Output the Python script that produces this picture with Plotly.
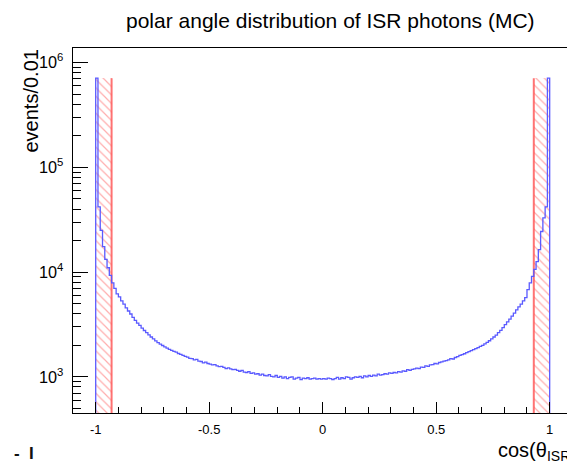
import plotly.graph_objects as go

# ---- data ----
bin_width = 0.01
bin_low = -1.0
counts = [
    710000, 42000, 25000, 17500, 13200, 11000, 9300, 7900, 7000, 6200,
    5800, 5300, 4950, 4550, 4250, 3980, 3700, 3460, 3250, 3100,
    2920, 2770, 2640, 2520, 2400, 2300, 2200, 2120, 2050, 1990,
    1930, 1880, 1830, 1790, 1750, 1720, 1670, 1640, 1600, 1570,
    1540, 1500, 1490, 1450, 1470, 1410, 1400, 1360, 1380, 1340,
    1320, 1300, 1310, 1270, 1250, 1260, 1230, 1200, 1220, 1190,
    1170, 1180, 1150, 1130, 1150, 1110, 1100, 1120, 1080, 1090,
    1060, 1070, 1040, 1060, 1030, 1020, 1050, 1010, 1000, 1030,
    990, 1010, 970, 1000, 960, 990, 1000, 950, 970, 990,
    940, 970, 960, 980, 950, 960, 970, 950, 960, 950,
    960, 950, 970, 960, 940, 960, 990, 950, 980, 960,
    1000, 990, 950, 980, 1000, 990, 1010, 980, 1020, 1000,
    1030, 1010, 1040, 1020, 1060, 1040, 1050, 1070, 1060, 1090,
    1080, 1100, 1090, 1120, 1110, 1140, 1130, 1170, 1150, 1180,
    1190, 1210, 1200, 1240, 1230, 1270, 1260, 1300, 1310, 1340,
    1330, 1370, 1390, 1410, 1430, 1450, 1490, 1480, 1530, 1560,
    1600, 1630, 1660, 1700, 1740, 1780, 1820, 1860, 1900, 1950,
    2000, 2060, 2130, 2210, 2300, 2400, 2500, 2640, 2780, 2950,
    3150, 3350, 3550, 3800, 4050, 4350, 4650, 4950, 5300, 5700,
    6800, 7900, 9100, 10600, 12600, 16400, 24400, 33000, 42000, 710000,
]
cut_value = 0.93          # |cos(theta)| acceptance boundary (hatched = excluded)
cut_box_height = 710000   # height of hatched boxes
x_tick_vals = [-1, -0.5, 0, 0.5, 1]
x_tick_text = ["-1", "-0.5", "0", "0.5", "1"]

title_text = "polar angle distribution of ISR photons (MC)"
y_title = "events/0.01"
x_title = "cos(θ<sub>ISR</sub>)"

# ---- build ----
n = len(counts)
edges = [bin_low + bin_width * i for i in range(n + 1)]
hist_x = [edges[0]] + edges[:n] + [edges[n]]
hist_y = [1] + counts + [1]

box_w = 1.0 - cut_value

fig = go.Figure()

fig.add_trace(go.Bar(
    x=[-(cut_value + box_w / 2), cut_value + box_w / 2],
    y=[cut_box_height, cut_box_height],
    width=[box_w, box_w],
    marker=dict(
        color="rgba(0,0,0,0)",
        line=dict(width=0),
        pattern=dict(shape="\\", fgcolor="rgba(255,60,60,0.85)",
                     bgcolor="rgba(255,255,255,0)", size=6, solidity=0.2,
                     fillmode="overlay"),
    ),
    showlegend=False, hoverinfo="skip",
))

for xc in (-cut_value, cut_value):
    fig.add_trace(go.Scatter(
        x=[xc, xc], y=[1, cut_box_height], mode="lines",
        line=dict(color="rgba(255,90,90,0.85)", width=2),
        showlegend=False, hoverinfo="skip",
    ))

fig.add_trace(go.Scatter(
    x=hist_x, y=hist_y, mode="lines", line_shape="hv",
    line=dict(color="rgb(90,90,255)", width=1.3),
    showlegend=False, hoverinfo="skip",
))

font_family = "Liberation Sans, Arial, Helvetica, sans-serif"
PW = 494.0   # plot width in px
PH = 365.0   # plot height in px

fig.update_layout(
    width=567, height=462,
    margin=dict(l=73, r=0, t=48, b=462 - 48 - 365, autoexpand=False),
    paper_bgcolor="white", plot_bgcolor="white",
    font=dict(family=font_family, color="black"),
    bargap=0,
    showlegend=False,
    hovermode=False,
    annotations=[
        dict(text=title_text, xref="paper", yref="paper",
             x=(330 - 73) / PW, y=1 + (48 - 20) / PH,
             xanchor="center", yanchor="middle", showarrow=False,
             font=dict(size=21, family=font_family)),
        dict(text=y_title, xref="paper", yref="paper",
             x=(30 - 73) / PW, y=1.0, textangle=-90,
             xanchor="center", yanchor="top", showarrow=False,
             font=dict(size=20, family=font_family)),
        dict(text=x_title, xref="paper", yref="paper",
             x=(579 - 73) / PW, y=-(437 - 413) / PH,
             xanchor="right", yanchor="top", showarrow=False,
             font=dict(size=20, family=font_family)),
        dict(text="<b>-  I</b>", xref="paper", yref="paper",
             x=(12 - 73) / PW, y=-(442 - 413) / PH,
             xanchor="left", yanchor="top", showarrow=False,
             font=dict(size=17, family=font_family, color="#111")),
    ],
)

fig.update_xaxes(
    range=[-1.1, 1.0763], automargin=False,
    tickmode="array", tickvals=x_tick_vals, ticktext=x_tick_text,
    ticks="inside", ticklen=11, tickcolor="black", tickwidth=1,
    minor=dict(ticks="inside", ticklen=6, tickmode="linear", tick0=0, dtick=0.1,
               tickcolor="black", showgrid=False),
    showline=True, linecolor="black", linewidth=1, mirror=True,
    showgrid=False, zeroline=False,
    tickfont=dict(size=13, family=font_family),
    ticklabelstandoff=4,
)

fig.update_yaxes(
    type="log", range=[2.6546, 6.1396], automargin=False,
    dtick=1, exponentformat="power",
    ticks="inside", ticklen=15, tickcolor="black", tickwidth=1,
    minor=dict(ticks="inside", ticklen=8, dtick="D1", tickcolor="black", showgrid=False),
    showline=True, linecolor="black", linewidth=1, mirror=False,
    showgrid=False, zeroline=False,
    tickfont=dict(size=13, family=font_family),
    ticklabelstandoff=6,
)

fig.write_html(
    "out.html",
    config={"displayModeBar": False, "staticPlot": True},
    post_script="document.body.style.margin='0';document.body.style.padding='0';",
)
